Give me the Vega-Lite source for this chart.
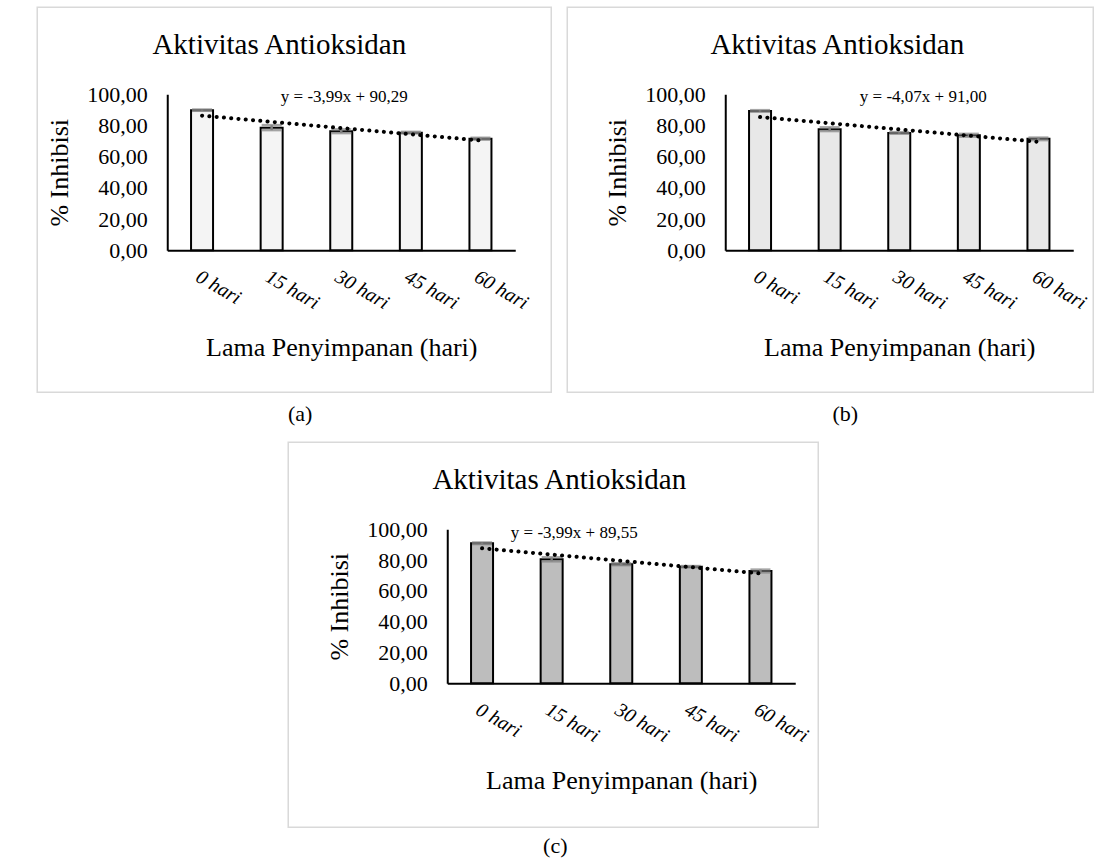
{
  "$schema": "https://vega.github.io/schema/vega-lite/v6.json",
  "padding": {"left": 36.25, "top": 6.25, "right": 0, "bottom": 0},
  "background": "white",
  "datasets": {
    "a": [
      {"day": 0, "value": 89.8, "err": 0.4},
      {"day": 15, "value": 78.6, "err": 1.6},
      {"day": 30, "value": 76.3, "err": 1.2},
      {"day": 45, "value": 75.4, "err": 0.5},
      {"day": 60, "value": 71.5, "err": 0.6}
    ],
    "b": [
      {"day": 0, "value": 89.3, "err": 0.5},
      {"day": 15, "value": 77.6, "err": 1.2},
      {"day": 30, "value": 75.2, "err": 0.5},
      {"day": 45, "value": 73.7, "err": 0.9},
      {"day": 60, "value": 71.4, "err": 0.8}
    ],
    "c": [
      {"day": 0, "value": 90.9, "err": 0.5},
      {"day": 15, "value": 80.5, "err": 1.3},
      {"day": 30, "value": 77.3, "err": 0.6},
      {"day": 45, "value": 75.7, "err": 0.4},
      {"day": 60, "value": 72.9, "err": 0.9}
    ]
  },
  "config": {
    "view": {"stroke": null},
    "font": "Liberation Serif",
    "scale": {"continuousPadding": 0},
    "axis": {
      "domainColor": "black",
      "domainWidth": 2,
      "ticks": false,
      "tickSize": 0,
      "grid": false,
      "labelFont": "Liberation Serif",
      "labelColor": "black",
      "labelFontSize": 22,
      "labelOverlap": false,
      "labelBound": false,
      "titleFont": "Liberation Serif",
      "titleFontWeight": "normal",
      "titleColor": "black",
      "titleFontSize": 26
    },
    "axisY": {"labelOverlap": false, "labelFlush": false, "labelPadding": 20, "titlePadding": 14, "tickCount": 12},
    "axisX": {"labelOverlap": false, "labelFlush": false, "labelAngle": 30, "labelAlign": "left", "labelBaseline": "top", "labelFontStyle": "italic", "labelFontSize": 20, "labelPadding": 16, "titlePadding": 22, "tickCount": 12},
    "text": {"font": "Liberation Serif", "color": "black"}
  },
  "spacing": 16,
  "vconcat": [
    {
      "hconcat": [
        {
          "width": 348,
          "height": 156,
          "data": {"name": "a"},
          "layer": [
            {
              "mark": {"type": "bar", "width": 22, "fill": "#f4f4f4", "stroke": "black", "strokeWidth": 2},
              "encoding": {
                "x": {"field": "day", "type": "quantitative", "title": "Lama Penyimpanan (hari)", "scale": {"domain": [-7.5, 67.5], "nice": false, "zero": false, "padding": 0},
                  "axis": {"values": [0, 15, 30, 45, 60], "tickCount": 12, "labelExpr": "datum.value + ' hari'", "labelOverlap": false}},
                "y": {"field": "value", "type": "quantitative", "title": "% Inhibisi", "scale": {"domain": [0, 100], "nice": false, "padding": 0},
                  "axis": {"values": [0, 20, 40, 60, 80, 100], "tickCount": 12, "labelExpr": "replace(format(datum.value, '.2f'), '.', ',')", "labelOverlap": false}}
              }
            },
            {
              "mark": {"type": "errorbar", "color": "#808080", "thickness": 2.5, "ticks": {"size": 20}},
              "encoding": {
                "x": {"field": "day", "type": "quantitative", "title": "Lama Penyimpanan (hari)"},
                "y": {"field": "value", "type": "quantitative", "title": "% Inhibisi"},
                "yError": {"field": "err"}
              }
            },
            {
              "transform": [{"regression": "value", "on": "day"}],
              "mark": {"type": "line", "color": "black", "strokeWidth": 4, "strokeDash": [0.1, 7.2], "strokeCap": "round"},
              "encoding": {
                "x": {"field": "day", "type": "quantitative", "title": "Lama Penyimpanan (hari)"},
                "y": {"field": "value", "type": "quantitative", "title": "% Inhibisi"}
              }
            },
            {
              "data": {"values": [{}]},
              "mark": {"type": "rect", "fill": "white", "fillOpacity": 0, "stroke": "#d9d9d9", "strokeWidth": 1.5},
              "encoding": {
                "x": {"datum": -35.52, "type": "quantitative", "title": "Lama Penyimpanan (hari)"},
                "x2": {"datum": 75.26},
                "y": {"datum": -91, "type": "quantitative", "title": "% Inhibisi"},
                "y2": {"datum": 155.8}
              }
            },
            {
              "data": {"values": [{"t": "Aktivitas Antioksidan"}]},
              "mark": {"type": "text", "font": "Liberation Serif", "fontSize": 29, "align": "center", "baseline": "alphabetic"},
              "encoding": {"text": {"field": "t"}, "x": {"datum": 16.64, "type": "quantitative", "title": "Lama Penyimpanan (hari)"}, "y": {"datum": 125.6, "type": "quantitative", "title": "% Inhibisi"}}
            },
            {
              "data": {"values": [{"t": "y = -3,99x + 90,29"}]},
              "mark": {"type": "text", "font": "Liberation Serif", "fontSize": 17, "align": "center", "baseline": "alphabetic"},
              "encoding": {"text": {"field": "t"}, "x": {"datum": 30.65, "type": "quantitative", "title": "Lama Penyimpanan (hari)"}, "y": {"datum": 95, "type": "quantitative", "title": "% Inhibisi"}}
            },
            {
              "data": {"values": [{"t": "(a)"}]},
              "mark": {"type": "text", "font": "Liberation Serif", "fontSize": 22, "align": "center", "baseline": "alphabetic"},
              "encoding": {"text": {"field": "t"}, "x": {"datum": 21.16, "type": "quantitative", "title": "Lama Penyimpanan (hari)"}, "y": {"datum": -109.6, "type": "quantitative", "title": "% Inhibisi"}}
            }
          ]
        },
        {
          "width": 348,
          "height": 156,
          "data": {"name": "b"},
          "layer": [
            {
              "mark": {"type": "bar", "width": 22, "fill": "#e8e8e8", "stroke": "black", "strokeWidth": 2},
              "encoding": {
                "x": {"field": "day", "type": "quantitative", "title": "Lama Penyimpanan (hari)", "scale": {"domain": [-7.5, 67.5], "nice": false, "zero": false, "padding": 0},
                  "axis": {"values": [0, 15, 30, 45, 60], "tickCount": 12, "labelExpr": "datum.value + ' hari'", "labelOverlap": false}},
                "y": {"field": "value", "type": "quantitative", "title": "% Inhibisi", "scale": {"domain": [0, 100], "nice": false, "padding": 0},
                  "axis": {"values": [0, 20, 40, 60, 80, 100], "tickCount": 12, "labelExpr": "replace(format(datum.value, '.2f'), '.', ',')", "labelOverlap": false}}
              }
            },
            {
              "mark": {"type": "errorbar", "color": "#808080", "thickness": 2.5, "ticks": {"size": 20}},
              "encoding": {
                "x": {"field": "day", "type": "quantitative", "title": "Lama Penyimpanan (hari)"},
                "y": {"field": "value", "type": "quantitative", "title": "% Inhibisi"},
                "yError": {"field": "err"}
              }
            },
            {
              "transform": [{"regression": "value", "on": "day"}],
              "mark": {"type": "line", "color": "black", "strokeWidth": 4, "strokeDash": [0.1, 7.2], "strokeCap": "round"},
              "encoding": {
                "x": {"field": "day", "type": "quantitative", "title": "Lama Penyimpanan (hari)"},
                "y": {"field": "value", "type": "quantitative", "title": "% Inhibisi"}
              }
            },
            {
              "data": {"values": [{}]},
              "mark": {"type": "rect", "fill": "white", "fillOpacity": 0, "stroke": "#d9d9d9", "strokeWidth": 1.5},
              "encoding": {
                "x": {"datum": -41.55, "type": "quantitative", "title": "Lama Penyimpanan (hari)"},
                "x2": {"datum": 71.81},
                "y": {"datum": -91, "type": "quantitative", "title": "% Inhibisi"},
                "y2": {"datum": 155.8}
              }
            },
            {
              "data": {"values": [{"t": "Aktivitas Antioksidan"}]},
              "mark": {"type": "text", "font": "Liberation Serif", "fontSize": 29, "align": "center", "baseline": "alphabetic"},
              "encoding": {"text": {"field": "t"}, "x": {"datum": 16.64, "type": "quantitative", "title": "Lama Penyimpanan (hari)"}, "y": {"datum": 125.6, "type": "quantitative", "title": "% Inhibisi"}}
            },
            {
              "data": {"values": [{"t": "y = -4,07x + 91,00"}]},
              "mark": {"type": "text", "font": "Liberation Serif", "fontSize": 17, "align": "center", "baseline": "alphabetic"},
              "encoding": {"text": {"field": "t"}, "x": {"datum": 35.17, "type": "quantitative", "title": "Lama Penyimpanan (hari)"}, "y": {"datum": 95, "type": "quantitative", "title": "% Inhibisi"}}
            },
            {
              "data": {"values": [{"t": "(b)"}]},
              "mark": {"type": "text", "font": "Liberation Serif", "fontSize": 22, "align": "center", "baseline": "alphabetic"},
              "encoding": {"text": {"field": "t"}, "x": {"datum": 18.36, "type": "quantitative", "title": "Lama Penyimpanan (hari)"}, "y": {"datum": -109.6, "type": "quantitative", "title": "% Inhibisi"}}
            }
          ]
        }
      ],
      "spacing": 210,
      "bounds": "flush"
    },
    {
      "hconcat": [
        {
          "width": 70,
          "height": 154,
          "data": {"values": [{}]},
          "mark": {"type": "point", "opacity": 0},
          "encoding": {}
        },
        {
          "width": 348,
          "height": 154,
          "data": {"name": "c"},
          "layer": [
            {
              "mark": {"type": "bar", "width": 22, "fill": "#bdbdbd", "stroke": "black", "strokeWidth": 2},
              "encoding": {
                "x": {"field": "day", "type": "quantitative", "title": "Lama Penyimpanan (hari)", "scale": {"domain": [-7.5, 67.5], "nice": false, "zero": false, "padding": 0},
                  "axis": {"values": [0, 15, 30, 45, 60], "tickCount": 12, "labelExpr": "datum.value + ' hari'", "labelOverlap": false}},
                "y": {"field": "value", "type": "quantitative", "title": "% Inhibisi", "scale": {"domain": [0, 100], "nice": false, "padding": 0},
                  "axis": {"values": [0, 20, 40, 60, 80, 100], "tickCount": 12, "labelExpr": "replace(format(datum.value, '.2f'), '.', ',')", "labelOverlap": false}}
              }
            },
            {
              "mark": {"type": "errorbar", "color": "#808080", "thickness": 2.5, "ticks": {"size": 20}},
              "encoding": {
                "x": {"field": "day", "type": "quantitative", "title": "Lama Penyimpanan (hari)"},
                "y": {"field": "value", "type": "quantitative", "title": "% Inhibisi"},
                "yError": {"field": "err"}
              }
            },
            {
              "transform": [{"regression": "value", "on": "day"}],
              "mark": {"type": "line", "color": "black", "strokeWidth": 4, "strokeDash": [0.1, 7.2], "strokeCap": "round"},
              "encoding": {
                "x": {"field": "day", "type": "quantitative", "title": "Lama Penyimpanan (hari)"},
                "y": {"field": "value", "type": "quantitative", "title": "% Inhibisi"}
              }
            },
            {
              "data": {"values": [{}]},
              "mark": {"type": "rect", "fill": "white", "fillOpacity": 0, "stroke": "#d9d9d9", "strokeWidth": 1.5},
              "encoding": {
                "x": {"datum": -41.77, "type": "quantitative", "title": "Lama Penyimpanan (hari)"},
                "x2": {"datum": 72.46},
                "y": {"datum": -93.5, "type": "quantitative", "title": "% Inhibisi"},
                "y2": {"datum": 156.5}
              }
            },
            {
              "data": {"values": [{"t": "Aktivitas Antioksidan"}]},
              "mark": {"type": "text", "font": "Liberation Serif", "fontSize": 29, "align": "center", "baseline": "alphabetic"},
              "encoding": {"text": {"field": "t"}, "x": {"datum": 16.64, "type": "quantitative", "title": "Lama Penyimpanan (hari)"}, "y": {"datum": 126, "type": "quantitative", "title": "% Inhibisi"}}
            },
            {
              "data": {"values": [{"t": "y = -3,99x + 89,55"}]},
              "mark": {"type": "text", "font": "Liberation Serif", "fontSize": 17, "align": "center", "baseline": "alphabetic"},
              "encoding": {"text": {"field": "t"}, "x": {"datum": 19.87, "type": "quantitative", "title": "Lama Penyimpanan (hari)"}, "y": {"datum": 94, "type": "quantitative", "title": "% Inhibisi"}}
            },
            {
              "data": {"values": [{"t": "(c)"}]},
              "mark": {"type": "text", "font": "Liberation Serif", "fontSize": 22, "align": "center", "baseline": "alphabetic"},
              "encoding": {"text": {"field": "t"}, "x": {"datum": 15.78, "type": "quantitative", "title": "Lama Penyimpanan (hari)"}, "y": {"datum": -110.4, "type": "quantitative", "title": "% Inhibisi"}}
            }
          ]
        }
      ],
      "spacing": 210,
      "bounds": "flush"
    }
  ]
}
